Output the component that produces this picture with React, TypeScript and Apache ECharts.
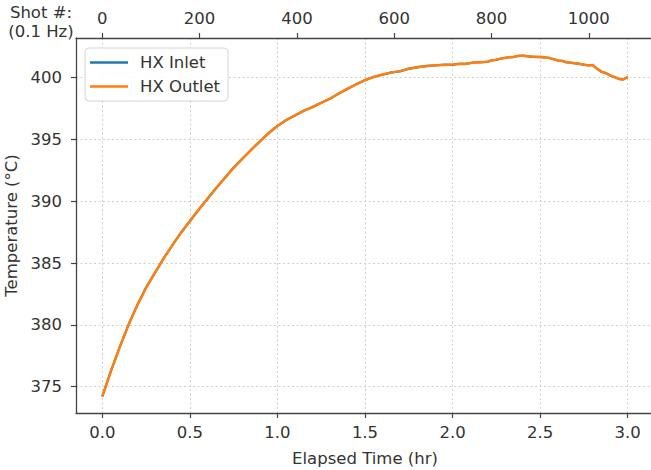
import React, { useEffect, useRef } from "react";
import * as echarts from "echarts";

const timeHr = [
  0.0, 0.05, 0.1, 0.15, 0.2, 0.25, 0.3, 0.35, 0.4, 0.45, 0.5, 0.55, 0.6, 0.65, 0.7, 0.75, 0.8, 0.85, 0.9, 0.95,
  1.0, 1.05, 1.1, 1.15, 1.2, 1.25, 1.3, 1.35, 1.4, 1.45, 1.5, 1.55, 1.6, 1.65, 1.7, 1.75, 1.8, 1.85, 1.9, 1.95,
  2.0, 2.025, 2.05, 2.075, 2.1, 2.125, 2.15, 2.175, 2.2, 2.225, 2.25, 2.275, 2.3, 2.325, 2.35, 2.375, 2.4, 2.425,
  2.45, 2.475, 2.5, 2.525, 2.55, 2.575, 2.6, 2.625, 2.65, 2.675, 2.7, 2.725, 2.75, 2.775, 2.8, 2.825, 2.85, 2.875,
  2.9, 2.925, 2.95, 2.975, 3.0,
];

const outletTemp = [
  374.2, 376.3, 378.2, 380.0, 381.6, 383.0, 384.2, 385.35, 386.45, 387.45, 388.4, 389.3, 390.2, 391.05, 391.9, 392.7,
  393.45, 394.15, 394.85, 395.5, 396.1, 396.55, 396.95, 397.3, 397.62, 397.95, 398.3, 398.7, 399.1, 399.45, 399.8,
  400.05, 400.25, 400.4, 400.52, 400.7, 400.85, 400.92, 401.0, 401.02,
  401.05, 401.08, 401.12, 401.1, 401.18, 401.22, 401.25, 401.24, 401.3, 401.38, 401.45, 401.52, 401.6, 401.64,
  401.68, 401.74, 401.78, 401.72, 401.7, 401.66, 401.68, 401.62, 401.6, 401.48, 401.4, 401.34, 401.25, 401.2,
  401.16, 401.1, 401.05, 400.98, 401.02, 400.7, 400.48, 400.35, 400.18, 400.02, 399.9, 399.84, 400.05,
];

const inletTemp = [
  374.22, 376.28, 378.22, 380.02, 381.58, 383.02, 384.18, 385.37, 386.43, 387.47, 388.38, 389.32, 390.18, 391.07,
  391.88, 392.72, 393.43, 394.17, 394.83, 395.52, 396.08, 396.57, 396.93, 397.32, 397.6, 397.97, 398.28, 398.72,
  399.08, 399.47, 399.78, 400.07, 400.23, 400.42, 400.5, 400.72, 400.83, 400.94, 400.98, 401.04,
  401.03, 401.1, 401.1, 401.12, 401.16, 401.24, 401.23, 401.26, 401.28, 401.4, 401.43, 401.54, 401.58, 401.66,
  401.66, 401.76, 401.76, 401.74, 401.68, 401.68, 401.66, 401.64, 401.58, 401.5, 401.38, 401.36, 401.23, 401.22,
  401.14, 401.12, 401.03, 401.0, 401.0, 400.72, 400.46, 400.37, 400.16, 400.04, 399.88, 399.86, 400.03,
];

const xTicks = [0, 0.5, 1.0, 1.5, 2.0, 2.5, 3.0];
const yTicks = [375, 380, 385, 390, 395, 400];
const shotTicks = [0, 200, 400, 600, 800, 1000];
const shotsPerHour = 360; // 0.1 Hz

const X_MIN = -0.15;
const X_MAX = 3.15;
const Y_MIN = 372.87;
const Y_MAX = 403.2;

const FONT = "DejaVu Sans";
const TEXT = "#333333";
const SPINE = "#444444";
const FS = 16.5;

export default function App() {
  const ref = useRef<HTMLDivElement>(null);

  useEffect(() => {
    if (!ref.current) return;
    const chart = echarts.init(ref.current, null, { renderer: "svg" });
    const inlet = timeHr.map((t, i) => [t, inletTemp[i]]);
    const outlet = timeHr.map((t, i) => [t, outletTemp[i]]);

    const axisLine = { show: true, onZero: false, lineStyle: { color: SPINE, width: 1.3 } };
    const axisTick = (vals: number[]) => ({
      show: true,
      length: 5,
      inside: false,
      customValues: vals,
      lineStyle: { color: SPINE, width: 1.2 },
    });
    const gridLine = { show: true, lineStyle: { color: "#cfcfcf", width: 1, type: [2, 2.5] as any } };

    chart.setOption({
      animation: false,
      backgroundColor: "#ffffff",
      textStyle: { fontFamily: FONT },
      grid: {
        left: 76,
        top: 38,
        width: 578,
        height: 375,
        containLabel: false,
        outerBoundsMode: "none",
      },
      legend: {
        orient: "vertical",
        left: 85,
        top: 48,
        icon: "rect",
        itemWidth: 38,
        itemHeight: 2.5,
        itemGap: 7,
        padding: [6, 8, 6, 5],
        borderColor: "#d4d4d4",
        borderWidth: 1,
        borderRadius: 4,
        backgroundColor: "rgba(255,255,255,0.85)",
        textStyle: { fontFamily: FONT, fontSize: FS, color: TEXT, padding: [0, 0, 0, 7] },
        data: ["HX Inlet", "HX Outlet"],
      },
      xAxis: [
        {
          type: "value",
          position: "bottom",
          min: X_MIN,
          max: X_MAX,
          axisLine,
          axisTick: axisTick(xTicks),
          axisLabel: {
            customValues: xTicks,
            margin: 11,
            fontFamily: FONT,
            fontSize: FS,
            color: TEXT,
            formatter: (v: number) => v.toFixed(1),
          },
          splitLine: gridLine,
          name: "Elapsed Time (hr)",
          nameLocation: "middle",
          nameGap: 37,
          nameTextStyle: { fontFamily: FONT, fontSize: FS, color: TEXT },
        },
        {
          type: "value",
          position: "top",
          min: X_MIN * shotsPerHour,
          max: X_MAX * shotsPerHour,
          axisLine,
          axisTick: axisTick(shotTicks),
          axisLabel: {
            customValues: shotTicks,
            margin: 11,
            fontFamily: FONT,
            fontSize: FS,
            color: TEXT,
            formatter: (v: number) => String(Math.round(v)),
          },
          splitLine: { show: false },
        },
      ],
      yAxis: {
        type: "value",
        min: Y_MIN,
        max: Y_MAX,
        axisLine,
        axisTick: axisTick(yTicks),
        axisLabel: {
          customValues: yTicks,
          margin: 14,
          fontFamily: FONT,
          fontSize: FS,
          color: TEXT,
        },
        splitLine: gridLine,
        name: "Temperature (°C)",
        nameLocation: "middle",
        nameGap: 47,
        nameTextStyle: { fontFamily: FONT, fontSize: FS, color: TEXT },
      },
      graphic: [
        {
          type: "text",
          x: 41,
          y: 12.5,
          style: {
            text: "Shot #:",
            fontFamily: FONT,
            fontSize: FS,
            lineHeight: 17,
            fill: TEXT,
            align: "center",
            verticalAlign: "middle",
          },
        },
        {
          type: "text",
          x: 41,
          y: 31.5,
          style: {
            text: "(0.1 Hz)",
            fontFamily: FONT,
            fontSize: FS,
            lineHeight: 17,
            fill: TEXT,
            align: "center",
            verticalAlign: "middle",
          },
        },
      ],
      series: [
        {
          name: "HX Inlet",
          type: "line",
          xAxisIndex: 0,
          data: inlet,
          symbol: "none",
          showSymbol: false,
          lineStyle: { color: "#1f77b4", width: 2.2 },
          itemStyle: { color: "#1f77b4" },
          z: 2,
        },
        {
          name: "HX Outlet",
          type: "line",
          xAxisIndex: 0,
          data: outlet,
          symbol: "none",
          showSymbol: false,
          lineStyle: { color: "#ff7f0e", width: 2.5 },
          itemStyle: { color: "#ff7f0e" },
          z: 3,
        },
      ],
    });
    return () => chart.dispose();
  }, []);

  return (
    <div
      ref={ref}
      style={{ position: "fixed", left: 0, top: 0, width: 651, height: 470 }}
    />
  );
}
